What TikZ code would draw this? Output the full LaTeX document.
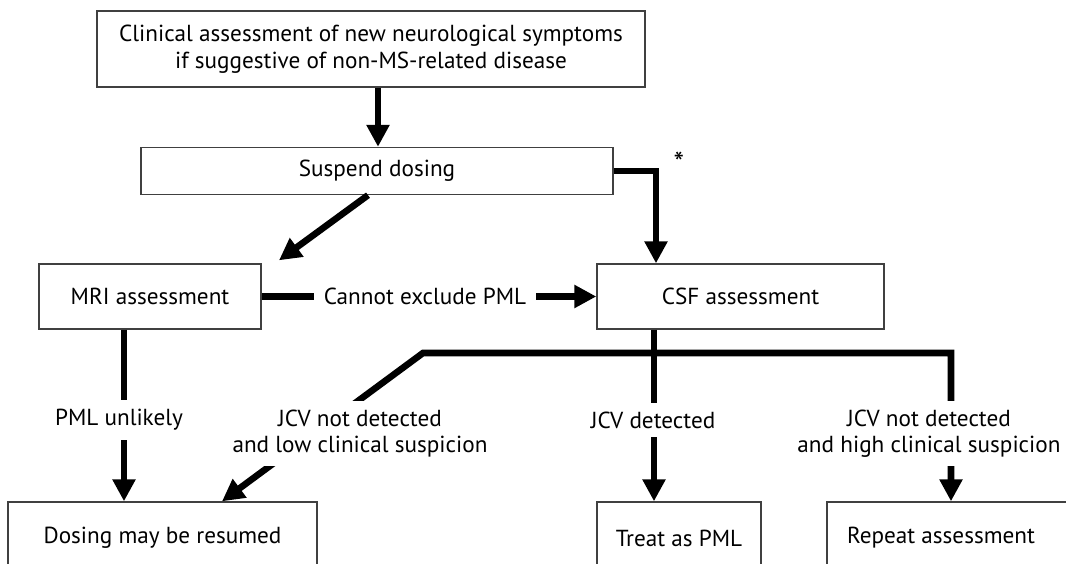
\documentclass[tikz,border=0pt]{standalone}
\usepackage{fontspec}
\setmainfont{PT Sans}
\usetikzlibrary{arrows.meta,calc}
\newcommand\figfont{\fontsize{23.2}{26.5}\selectfont}
\begin{document}
\begin{tikzpicture}[x=1pt,y=-1pt,
  box/.style={draw=black!75, line width=1.4pt, inner sep=0pt, align=center, font=\figfont},
  conn/.style={line width=6.6pt},
  arr/.style={conn, -{Triangle[length=22pt,width=22pt]}},
  arrtwo/.style={conn, {Triangle[length=22pt,width=22pt]}-{Triangle[length=22pt,width=22pt]}},
  lbl/.style={fill=white, inner xsep=10pt, inner ysep=9pt, align=center, font=\figfont},
]
\useasboundingbox (0,0) rectangle (1066,564);
\clip (0,0) rectangle (1066,564);
\fill[white] (0,0) rectangle (1066,564);

% boxes
\node[box, minimum width=548pt, minimum height=76pt] (top) at (371,49)
  {Clinical assessment of new neurological symptoms\\if suggestive of non-MS-related disease};
\node[box, minimum width=472pt, minimum height=47pt] (sus) at (377,171) {Suspend dosing};
\node[box, minimum width=222pt, minimum height=65pt] (mri) at (150,296.5) {MRI assessment};
\node[box, minimum width=287pt, minimum height=65pt] (csf) at (740.5,296.5) {CSF assessment};
\node[box, minimum width=309pt, minimum height=72pt] (dose) at (162.5,538) {Dosing may be resumed};
\node[box, minimum width=164pt, minimum height=72pt] (treat) at (679,538) {Treat as PML};
\node[box, minimum width=250pt, minimum height=72pt] (rep) at (952,538) {Repeat assessment\hspace*{22pt}};
\node[font=\fontsize{30}{30}\selectfont] (ast) at (679,163) {*};

% helper x positions
\coordinate (xa) at (378,0);
\coordinate (d1) at (368,0);
\coordinate (d2) at (279,0);
\coordinate (xc) at (656,0);
\coordinate (xm) at (124,0);
\coordinate (xt) at (654,0);
\coordinate (xd) at (222,0);
\coordinate (j1) at (423,353);
\coordinate (j2) at (951,353);

% connectors
\draw[arr] (top.south -| xa) -- (sus.north -| xa);
\draw[arr] (sus.south -| d1) -- ($(mri.north -| d2)+(0,-3)$);
\draw[arr] (sus.east) -| (csf.north -| xc);
\draw[arr] (mri.east) -- (csf.west);
\draw[arr] (mri.south -| xm) -- (dose.north -| xm);
\draw[arr] (csf.south -| xt) -- (treat.north -| xt);
\draw[arrtwo] (dose.north -| xd) -- (j1) -- (j2) -- (rep.north -| j2);

% labels
\node[lbl] (lc) at (425,296.5) {Cannot exclude PML};
\node[lbl] (lp) at (119,420) {PML unlikely};
\node[lbl] (ll) at (360,433.5) {JCV not detected\\and low clinical suspicion};
\node[lbl] (ld) at (653,420) {JCV detected};
\node[lbl] (lh) at (929,433.5) {JCV not detected\\and high clinical suspicion};
\end{tikzpicture}
\end{document}
